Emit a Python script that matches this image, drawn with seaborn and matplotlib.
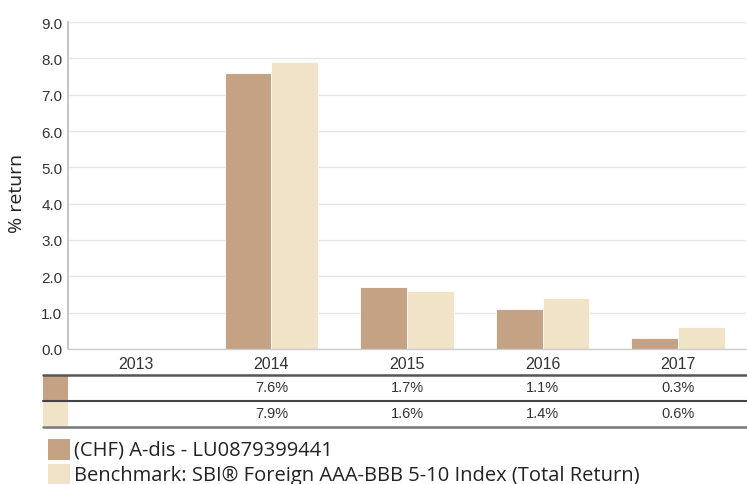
import matplotlib
matplotlib.use("Agg")
import matplotlib.pyplot as plt
import seaborn as sns
import pandas as pd
import numpy as np
from matplotlib.patches import Rectangle
from matplotlib.lines import Line2D
from matplotlib.transforms import blended_transform_factory

years = ["2013", "2014", "2015", "2016", "2017"]
fund_name = "(CHF) A-dis - LU0879399441"
bench_name = "Benchmark: SBI® Foreign AAA-BBB 5-10 Index (Total Return)"
fund_values = [np.nan, 7.6, 1.7, 1.1, 0.3]
bench_values = [np.nan, 7.9, 1.6, 1.4, 0.6]
fund_labels = ["", "7.6%", "1.7%", "1.1%", "0.3%"]
bench_labels = ["", "7.9%", "1.6%", "1.4%", "0.6%"]
yticks = [0, 1, 2, 3, 4, 5, 6, 7, 8, 9]

fund_color = "#C4A283"
bench_color = "#F0E3C8"
colors = [fund_color, bench_color]

df = pd.DataFrame({
    "year": years * 2,
    "value": fund_values + bench_values,
    "series": [fund_name] * len(years) + [bench_name] * len(years),
})

sns.set_theme(style="white")
plt.rcParams["font.family"] = ["Liberation Sans", "DejaVu Sans"]

W, H = 747, 485
fig = plt.figure(figsize=(W / 100, H / 100), dpi=100)

def fx(px):
    return px / W

def fy(py):
    return 1 - py / H

ax = fig.add_axes([fx(68), fy(350), fx(746) - fx(68), fy(23) - fy(350)])
sns.barplot(data=df, x="year", y="value", hue="series", order=years,
            hue_order=[fund_name, bench_name], palette=colors, ax=ax,
            width=0.69, errorbar=None, legend=False, saturation=1,
            edgecolor="white", linewidth=0.6)

ax.set_ylim(0, 9)
ax.set_yticks(yticks)
ax.set_yticklabels([f"{v:.1f}" for v in yticks], fontsize=11, color="#333333")
ax.tick_params(axis="y", length=0, pad=4)
ax.tick_params(axis="x", length=0, pad=5, labelsize=11.5, labelcolor="#333333")
ax.set_xlabel("")
ax.set_ylabel("% return", fontsize=14, color="#222222",
              family=["Open Sans", "DejaVu Sans"])
ax.yaxis.set_label_coords(-(68 - 26) / (746 - 68), (350 - 193) / (350 - 23))
ax.yaxis.grid(True, color="#E6E6E6", linewidth=1)
ax.set_axisbelow(True)
for s in ["top", "right"]:
    ax.spines[s].set_visible(False)
ax.spines["left"].set_color("#BBBBBB")
ax.spines["bottom"].set_color("#CCCCCC")
ax.spines["left"].set_linewidth(1.2)
ax.spines["bottom"].set_linewidth(1)

# table
tr = blended_transform_factory(ax.transData, fig.transFigure)
row_y = [388, 414]
for labels, yy in [(fund_labels, row_y[0]), (bench_labels, row_y[1])]:
    for i, lab in enumerate(labels):
        fig.text(i, fy(yy), lab, transform=tr, ha="center", va="center",
                 fontsize=10.5, color="#333333")

for yy, lw, c in [(375.5, 1.8, "#555555"), (401.5, 1.5, "#444444"), (427.5, 1.8, "#777777")]:
    fig.add_artist(Line2D([fx(43), fx(747)], [fy(yy), fy(yy)], transform=fig.transFigure,
                          color=c, linewidth=lw))

fig.add_artist(Rectangle((fx(43), fy(401)), fx(68) - fx(43), fy(376) - fy(401),
                         transform=fig.transFigure, facecolor=fund_color, edgecolor="none"))
fig.add_artist(Rectangle((fx(43), fy(427)), fx(68) - fx(43), fy(402) - fy(427),
                         transform=fig.transFigure, facecolor=bench_color, edgecolor="none"))

# legend
for (name, c, y0, y1) in [(fund_name, fund_color, 440, 461), (bench_name, bench_color, 465, 486)]:
    fig.add_artist(Rectangle((fx(48), fy(y1)), fx(70) - fx(48), fy(y0) - fy(y1),
                             transform=fig.transFigure, facecolor=c, edgecolor="none"))
    fig.text(fx(74), fy((y0 + y1) / 2), name, ha="left", va="center", fontsize=14.5,
             color="#222222", family=["Open Sans", "DejaVu Sans"])

fig.savefig("out.png", dpi=100)
